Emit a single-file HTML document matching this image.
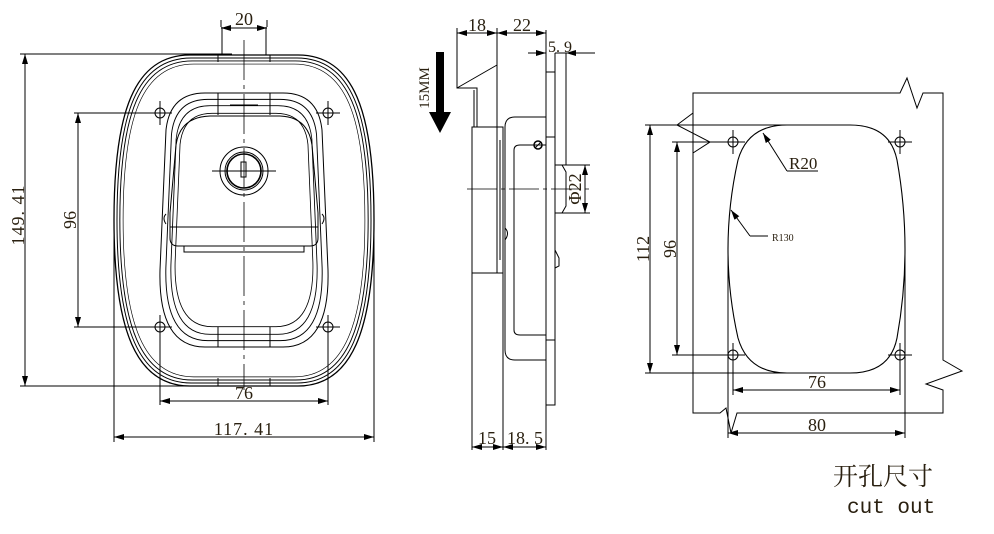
<!DOCTYPE html>
<html><head><meta charset="utf-8"><style>
html,body{margin:0;padding:0;background:#fff;}
svg{display:block;}
</style></head><body>
<svg width="994" height="534" viewBox="0 0 994 534" xmlns="http://www.w3.org/2000/svg">
<defs>
<marker id="a" viewBox="0 0 10 6" refX="10" refY="3" markerWidth="10" markerHeight="6" markerUnits="userSpaceOnUse" orient="auto-start-reverse"><path d="M0,0L10,3L0,6Z" fill="#000"/></marker>
<path id="body" d="M190,55 H298 C354,55 374,112 374,220 C374,330 352,386 298,386 H190 C136,386 114,330 114,220 C114,112 134,55 190,55Z"/>
<path id="frame" d="M205,93 H283 Q318,93 322,130 L328,270 Q330,347 283,347 H205 Q158,347 160,270 L166,130 Q170,93 205,93Z"/>
</defs>
<g fill="none" stroke="#000" stroke-width="1">
<use href="#body" stroke-width="1.3"/>
<use href="#body" transform="translate(244,220) scale(0.977,0.982) translate(-244,-220)"/>
<use href="#body" transform="translate(244,220) scale(0.955,0.964) translate(-244,-220)"/>
<use href="#body" transform="translate(244,220) scale(0.93,0.945) translate(-244,-220)" stroke-width="0.7"/>
<use href="#frame"/>
<use href="#frame" transform="translate(244,220) scale(0.93,0.95) translate(-244,-220)"/>
<use href="#frame" transform="translate(244,220) scale(0.87,0.9) translate(-244,-220)"/>
<use href="#frame" transform="translate(244,220) scale(0.82,0.84) translate(-244,-220)"/>
<path d="M218,55V62M270,55V62M218,378V386M270,378V386M218,93V115M270,93V115M218,327V347M270,327V347M230,105H258"/>
<path d="M222,55V27M266,55V27"/>
<path d="M176,145 Q180,117 210,116 H280 Q308,117 312,145 L318,213 V238 Q318,246 310,246 H178 Q170,246 170,238 V213Z"/>
<path d="M170,227H318M184,246V252H304V246M166,214q-4,4 0,10M322,214q4,4 0,10"/>
<circle cx="244" cy="171" r="24"/><circle cx="244" cy="171" r="19"/><circle cx="244" cy="171" r="17" stroke-width="1.6"/>
<rect x="241" y="162" width="5" height="15"/>
<path d="M212,171H276"/>
<g><circle cx="160" cy="113" r="5"/><circle cx="328" cy="113" r="5"/><circle cx="160" cy="327" r="5"/><circle cx="328" cy="327" r="5"/>
<path d="M148,113H172M160,101V125M316,113H340M328,101V125M148,327H172M160,315V339M316,327H340M328,315V339"/></g>
<path d="M244,40V390" stroke-dasharray="40,5,4,5" stroke-width="0.8"/>
<path d="M221,27V20M267,27V20"/>
<path d="M221,28H267" marker-start="url(#a)" marker-end="url(#a)"/>
<path d="M20,54H232M20,386H240"/>
<path d="M25,54V386" marker-start="url(#a)" marker-end="url(#a)"/>
<path d="M74,113H170M74,327H170"/>
<path d="M78,113V327" marker-start="url(#a)" marker-end="url(#a)"/>
<path d="M160,327V405M328,327V405"/>
<path d="M160,401H328" marker-start="url(#a)" marker-end="url(#a)"/>
<path d="M114,230V442M374,230V442"/>
<path d="M114,437H374" marker-start="url(#a)" marker-end="url(#a)"/>

<path d="M457,33V88H477V127M457,88L497,65M497,28V127M474,90V127"/>
<rect x="472" y="127" width="31" height="146"/>
<path d="M497,127V273M500,140V260"/>
<path d="M472,273V450M503,273V450M546,405V450"/>
<path d="M505,127Q505,117 515,117H546V360H515Q505,360 505,350Z"/>
<path d="M514,150Q514,145 520,145H546M514,150V330Q514,335 520,335H546"/>
<rect x="546" y="72" width="9" height="333"/>
<path d="M546,137H555M546,340H555"/>
<circle cx="538" cy="145" r="4" stroke-width="1.5"/><path d="M535,148L541,142"/>
<path d="M555,165H562L566,172V206L562,213H555"/>
<path d="M555,165H590M555,213H590"/>
<path d="M585,165V213" marker-start="url(#a)" marker-end="url(#a)"/>
<path d="M467,189H590" stroke-dasharray="30,4,4,4" stroke-width="0.8"/>
<path d="M505,228q5,5 0,12M555,250l4,8v8l-4,2"/>
<path d="M546,30V72M555,53V72M566,53V165M457,28V33"/>
<path d="M457,33H497" marker-start="url(#a)" marker-end="url(#a)"/>
<path d="M497,33H546" marker-start="url(#a)" marker-end="url(#a)"/>
<path d="M528,53H546" marker-end="url(#a)"/>
<path d="M595,53H566" marker-end="url(#a)"/>
<path d="M555,53H566"/>
<path d="M472,447H503" marker-start="url(#a)" marker-end="url(#a)"/>
<path d="M503,447H546" marker-start="url(#a)" marker-end="url(#a)"/>

<path d="M693,153V93H900L907,78L917,108L923,93H943V360L962,371L926,384L943,390V413H737L731,433L726,408L720,413H693V153L710,142L677,125L693,113"/>
<path d="M787,125H850Q890,125 897,160Q913,249 897,338Q890,373 850,373H787Q748,373 738,338Q718,249 738,160Q748,125 787,125Z" stroke-width="1.1"/>
<circle cx="733" cy="142" r="5"/><circle cx="900" cy="142" r="5"/><circle cx="733" cy="355" r="5"/><circle cx="900" cy="355" r="5"/>
<path d="M721,142H745M733,130V154M888,142H912M900,130V154M721,355H745M733,343V367M888,355H912M900,343V367"/>
<path d="M645,125H787M645,373H787M672,142H745M672,355H745"/>
<path d="M650,125V373" marker-start="url(#a)" marker-end="url(#a)"/>
<path d="M677,142V355" marker-start="url(#a)" marker-end="url(#a)"/>
<path d="M733,355V395M900,355V395M728,249V438M905,249V438"/>
<path d="M733,390H900" marker-start="url(#a)" marker-end="url(#a)"/>
<path d="M728,433H905" marker-start="url(#a)" marker-end="url(#a)"/>
<path d="M787,171L763,133" marker-end="url(#a)"/>
<path d="M787,171H818"/>
<path d="M750,236L731,210" marker-end="url(#a)"/>
<path d="M750,236H768"/>
</g>
<path d="M436,52H444V112H451L440,133L429,112H436Z" fill="#000"/>
<g font-size="18" font-family="'Liberation Serif',serif" fill="#2a2010">
<text x="244" y="25" text-anchor="middle">20</text>
<text transform="translate(24,215) rotate(-90)" text-anchor="middle" letter-spacing="1">149. 41</text>
<text transform="translate(76,220) rotate(-90)" text-anchor="middle">96</text>
<text x="244" y="399" text-anchor="middle">76</text>
<text x="244" y="435" text-anchor="middle" letter-spacing="1">117. 41</text>
<text x="477" y="31" text-anchor="middle">18</text>
<text x="522" y="31" text-anchor="middle">22</text>
<text x="560" y="52" text-anchor="middle" font-size="16">5. 9</text>
<text transform="translate(581,189) rotate(-90)" text-anchor="middle">Φ22</text>
<text x="487" y="444" text-anchor="middle">15</text>
<text x="525" y="444" text-anchor="middle">18. 5</text>
<text transform="translate(429,88) rotate(-90)" text-anchor="middle" font-size="15">15MM</text>
<text transform="translate(649,249) rotate(-90)" text-anchor="middle">112</text>
<text transform="translate(676,249) rotate(-90)" text-anchor="middle">96</text>
<text x="789" y="169" font-size="17">R20</text>
<text x="772" y="241" font-size="10">R130</text>
<text x="817" y="388" text-anchor="middle">76</text>
<text x="817" y="431" text-anchor="middle">80</text>
<text x="833" y="485" font-size="25" style="font-family:'Noto Serif CJK SC','Noto Sans CJK SC',serif">开孔尺寸</text>
<text x="847" y="513" font-size="21" style="font-family:'Liberation Mono',monospace">cut out</text>
</g>
</svg>
</body></html>
